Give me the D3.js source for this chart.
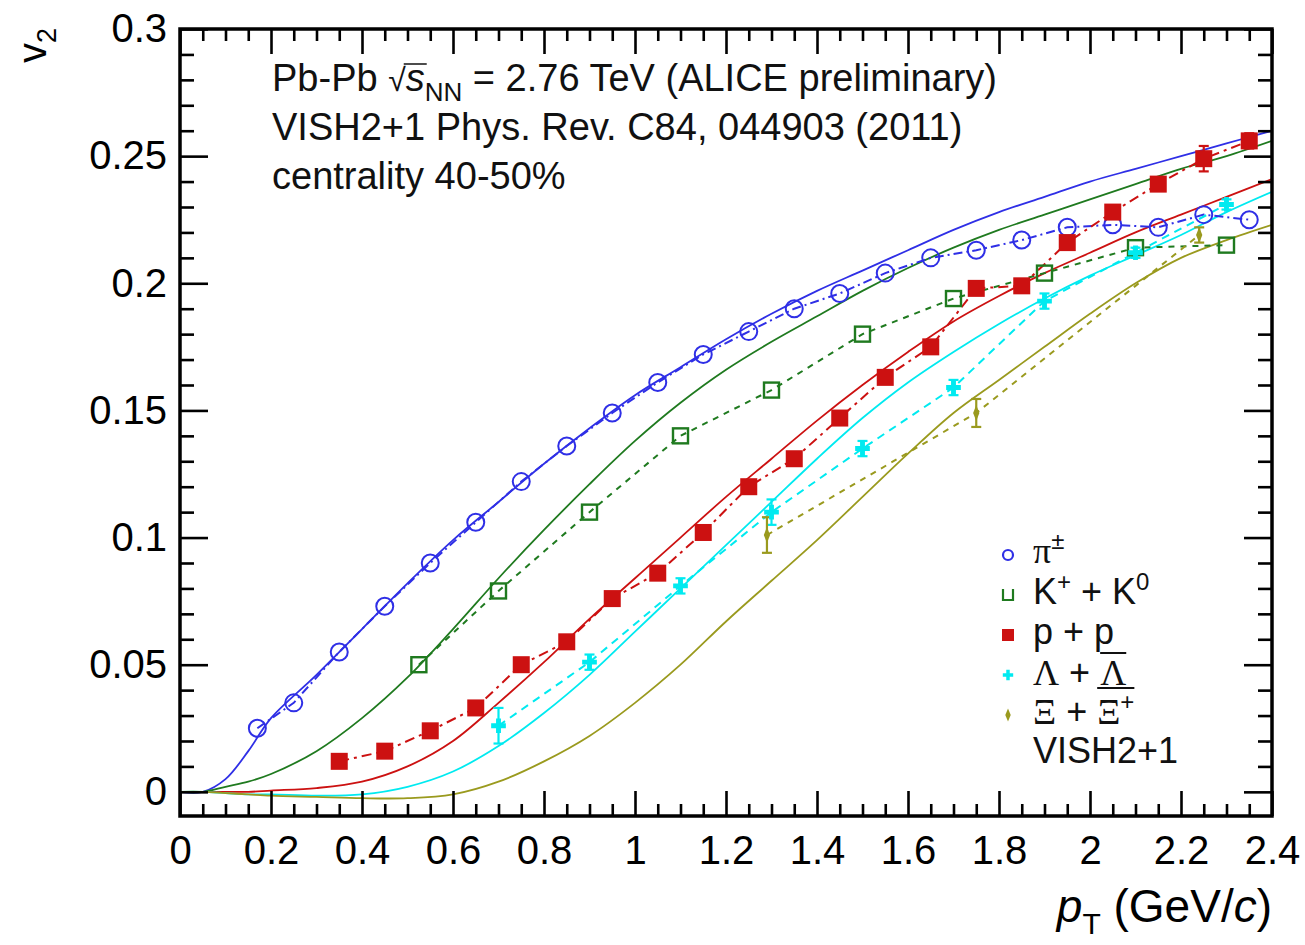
<!DOCTYPE html>
<html>
<head>
<meta charset="utf-8">
<script src="https://cdn.jsdelivr.net/npm/d3@7"></script>
<style>
  body { margin:0; background:#fff; }
  svg { display:block; font-family:"Liberation Sans", Arial, sans-serif; }
</style>
</head>
<body>
<svg id="chart" width="1305" height="945"></svg>
<script>
// ---- data ----
var xMajor=[0,0.2,0.4,0.6,0.8,1,1.2,1.4,1.6,1.8,2,2.2,2.4];
var yMajor=[0,0.05,0.1,0.15,0.2,0.25,0.3];

var pionPt=[0.17,0.25,0.35,0.45,0.55,0.65,0.75,0.85,0.95,1.05,1.15,1.25,1.35,1.45,1.55,1.65,1.75,1.85,1.95,2.05,2.15,2.25,2.35];
var pionV2=[0.025,0.035,0.055,0.073,0.090,0.106,0.122,0.136,0.149,0.161,0.172,0.181,0.190,0.196,0.204,0.210,0.213,0.217,0.222,0.223,0.222,0.227,0.225];

var kaonPt=[0.525,0.70,0.90,1.10,1.30,1.50,1.70,1.90,2.10,2.30];
var kaonV2=[0.050,0.079,0.110,0.140,0.158,0.180,0.194,0.204,0.214,0.215];

var protonPt=[0.35,0.45,0.55,0.65,0.75,0.85,0.95,1.05,1.15,1.25,1.35,1.45,1.55,1.65,1.75,1.85,1.95,2.05,2.15,2.25,2.35];
var protonV2=[0.012,0.016,0.024,0.033,0.050,0.059,0.076,0.086,0.102,0.120,0.131,0.147,0.163,0.175,0.198,0.199,0.216,0.228,0.239,0.249,0.256];
var protonErr=[0,0,0,0,0,0,0,0,0,0,0,0,0,0,0,0,0,0,0,0.005,0.003];

var lambdaPt=[0.70,0.90,1.10,1.30,1.50,1.70,1.90,2.10,2.30];
var lambdaV2=[0.026,0.051,0.081,0.110,0.135,0.159,0.193,0.212,0.231];
var lambdaErr=[0.007,0.003,0.003,0.005,0.003,0.003,0.003,0.002,0.002];

var xiPt=[1.29,1.75,2.24];
var xiV2=[0.101,0.149,0.219];
var xiErr=[0.007,0.0055,0.003];

// VISH2+1 hydro curves
var modelPt=[0,0.05,0.1,0.15,0.2,0.3,0.4,0.5,0.6,0.7,0.8,0.9,1.0,1.1,1.2,1.3,1.4,1.5,1.6,1.7,1.8,1.9,2.0,2.1,2.2,2.3,2.4];
var modelPion=[0,0,0.005,0.016,0.029,0.046,0.064,0.082,0.099,0.114,0.129,0.143,0.156,0.167,0.178,0.188,0.197,0.205,0.213,0.221,0.228,0.234,0.240,0.245,0.250,0.255,0.260];
var modelKaon=[0,0,0.002,0.004,0.007,0.016,0.029,0.045,0.064,0.084,0.103,0.121,0.138,0.153,0.166,0.177,0.187,0.197,0.206,0.214,0.221,0.227,0.233,0.239,0.245,0.250,0.256];
var modelProton=[0,0,0,0,0.0005,0.0015,0.004,0.010,0.020,0.035,0.051,0.068,0.084,0.100,0.116,0.131,0.146,0.160,0.173,0.185,0.195,0.204,0.212,0.220,0.227,0.234,0.241];
var modelLambda=[0,0,-0.0005,-0.001,-0.001,-0.0015,-0.001,0.002,0.008,0.018,0.031,0.046,0.063,0.080,0.097,0.114,0.131,0.147,0.161,0.173,0.184,0.194,0.203,0.211,0.219,0.228,0.236];
var modelXi=[0,0,-0.0005,-0.001,-0.0015,-0.002,-0.0025,-0.0025,-0.001,0.004,0.012,0.022,0.035,0.050,0.067,0.083,0.099,0.116,0.133,0.149,0.162,0.175,0.188,0.200,0.210,0.217,0.223];

var colPion="#2f2fe6", colKaon="#1f7a1f", colProton="#cc1111", colLambda="#00eaf0", colXi="#9a9a1e";

// ---- scales ----
var svg=d3.select("#chart");
var x=d3.scaleLinear().domain([0,2.4]).range([180,1272]);
var y=d3.scaleLinear().domain([-0.0095,0.3]).range([816,29]);

svg.append("clipPath").attr("id","plotClip")
  .append("rect").attr("x",180).attr("y",29).attr("width",1092).attr("height",787);

var plot=svg.append("g").attr("clip-path","url(#plotClip)");

function zip(a,b){ return a.map(function(v,i){ return [v,b[i]]; }); }

var line=d3.line().x(function(d){return x(d[0]);}).y(function(d){return y(d[1]);});
var smooth=d3.line().curve(d3.curveCatmullRom.alpha(0.5)).x(function(d){return x(d[0]);}).y(function(d){return y(d[1]);});

// model curves (solid)
[[modelPion,colPion],[modelKaon,colKaon],[modelProton,colProton],[modelLambda,colLambda],[modelXi,colXi]].forEach(function(m){
  plot.append("path").datum(zip(modelPt,m[0]))
    .attr("d",smooth).attr("fill","none").attr("stroke",m[1]).attr("stroke-width",1.8);
});

// data connecting lines (dashed)
var series=[
  {pt:pionPt,v:pionV2,col:colPion,dash:"9,4,2,4"},
  {pt:kaonPt,v:kaonV2,col:colKaon,dash:"6,6"},
  {pt:protonPt,v:protonV2,col:colProton,dash:"10,5,3,5"},
  {pt:lambdaPt,v:lambdaV2,col:colLambda,dash:"8,6"},
  {pt:xiPt,v:xiV2,col:colXi,dash:"6,6"}
];
series.forEach(function(s){
  plot.append("path").datum(zip(s.pt,s.v))
    .attr("d",line).attr("fill","none").attr("stroke",s.col)
    .attr("stroke-width",2).attr("stroke-dasharray",s.dash);
});

// error bars
function errBars(pt,v,err,col){
  var g=plot.append("g").attr("stroke",col).attr("stroke-width",2.2);
  pt.forEach(function(p,i){
    if(!err[i]) return;
    var cx=x(p), y1=y(v[i]-err[i]), y2=y(v[i]+err[i]);
    g.append("line").attr("x1",cx).attr("x2",cx).attr("y1",y1).attr("y2",y2);
    g.append("line").attr("x1",cx-5).attr("x2",cx+5).attr("y1",y1).attr("y2",y1);
    g.append("line").attr("x1",cx-5).attr("x2",cx+5).attr("y1",y2).attr("y2",y2);
  });
}
errBars(protonPt,protonV2,protonErr,colProton);
errBars(lambdaPt,lambdaV2,lambdaErr,colLambda);
errBars(xiPt,xiV2,xiErr,colXi);

// markers
plot.selectAll(".pion").data(zip(pionPt,pionV2)).enter().append("circle")
  .attr("cx",function(d){return x(d[0]);}).attr("cy",function(d){return y(d[1]);})
  .attr("r",8.5).attr("fill","none").attr("stroke",colPion).attr("stroke-width",2);

plot.selectAll(".kaon").data(zip(kaonPt,kaonV2)).enter().append("rect")
  .attr("x",function(d){return x(d[0])-7.5;}).attr("y",function(d){return y(d[1])-7.5;})
  .attr("width",15).attr("height",15).attr("fill","none").attr("stroke",colKaon).attr("stroke-width",2.4);

plot.selectAll(".proton").data(zip(protonPt,protonV2)).enter().append("rect")
  .attr("x",function(d){return x(d[0])-8.5;}).attr("y",function(d){return y(d[1])-8.5;})
  .attr("width",17).attr("height",17).attr("fill",colProton);

plot.selectAll(".lambda").data(zip(lambdaPt,lambdaV2)).enter().append("path")
  .attr("d",d3.symbol().type(d3.symbolCross).size(120))
  .attr("transform",function(d){return "translate("+x(d[0])+","+y(d[1])+")";})
  .attr("fill",colLambda);

plot.selectAll(".xi").data(zip(xiPt,xiV2)).enter().append("path")
  .attr("d",d3.symbol().type(d3.symbolDiamond).size(60))
  .attr("transform",function(d){return "translate("+x(d[0])+","+y(d[1])+") scale(0.75,1.1)";})
  .attr("fill",colXi);

// ---- axes (ticks inward, on all four sides) ----
var xMinor=d3.range(0,2.4001,0.05).filter(function(v){return Math.abs(v/0.2-Math.round(v/0.2))>1e-6;});
var yMinor=d3.range(0,0.3001,0.01).filter(function(v){return Math.abs(v/0.05-Math.round(v/0.05))>1e-6;});

function styleAxis(g){
  g.select(".domain").remove();
  g.selectAll(".tick line").attr("stroke","#000").attr("stroke-width",2.6);
  g.selectAll(".tick text").attr("fill","#000").style("font-size","40px")
    .style("font-family","'Liberation Sans', Arial, sans-serif");
}

svg.append("g").attr("transform","translate(0,816)")
  .call(d3.axisBottom(x).tickValues(xMajor).tickSizeInner(-25).tickSizeOuter(0).tickPadding(20).tickFormat(d3.format("~g")))
  .call(styleAxis);
svg.append("g").attr("transform","translate(0,816)")
  .call(d3.axisBottom(x).tickValues(xMinor).tickSizeInner(-12).tickSizeOuter(0).tickFormat(""))
  .call(styleAxis);
svg.append("g").attr("transform","translate(0,29)")
  .call(d3.axisTop(x).tickValues(xMajor).tickSizeInner(-25).tickSizeOuter(0).tickFormat(""))
  .call(styleAxis);
svg.append("g").attr("transform","translate(0,29)")
  .call(d3.axisTop(x).tickValues(xMinor).tickSizeInner(-12).tickSizeOuter(0).tickFormat(""))
  .call(styleAxis);

svg.append("g").attr("transform","translate(180,0)")
  .call(d3.axisLeft(y).tickValues(yMajor).tickSizeInner(-28).tickSizeOuter(0).tickPadding(13).tickFormat(d3.format("~g")))
  .call(styleAxis);
svg.append("g").attr("transform","translate(180,0)")
  .call(d3.axisLeft(y).tickValues(yMinor).tickSizeInner(-14).tickSizeOuter(0).tickFormat(""))
  .call(styleAxis);
svg.append("g").attr("transform","translate(1272,0)")
  .call(d3.axisRight(y).tickValues(yMajor).tickSizeInner(-28).tickSizeOuter(0).tickFormat(""))
  .call(styleAxis);
svg.append("g").attr("transform","translate(1272,0)")
  .call(d3.axisRight(y).tickValues(yMinor).tickSizeInner(-14).tickSizeOuter(0).tickFormat(""))
  .call(styleAxis);

// frame
svg.append("rect").attr("x",180).attr("y",29).attr("width",1092).attr("height",787)
  .attr("fill","none").attr("stroke","#000").attr("stroke-width",3.5);

// ---- axis titles ----
var xt=svg.append("text").attr("x",1272).attr("y",922).attr("text-anchor","end")
  .style("font-size","46px").attr("fill","#000");
xt.append("tspan").style("font-style","italic").text("p");
xt.append("tspan").attr("dy",12).style("font-size","30px").text("T");
xt.append("tspan").attr("dy",-12).text(" (GeV/");
xt.append("tspan").style("font-style","italic").text("c");
xt.append("tspan").text(")");

var yt=svg.append("text").attr("transform","translate(46,28) rotate(-90)")
  .attr("text-anchor","end").style("font-size","40px").attr("fill","#000");
yt.append("tspan").text("v");
yt.append("tspan").attr("dy",10).style("font-size","27px").text("2");

// ---- annotation text ----
var t1=svg.append("text").attr("x",272).attr("y",91).style("font-size","38px").attr("fill","#111");
t1.append("tspan").text("Pb-Pb ");
t1.append("tspan").style("font-size","32px").text("\u221A");
t1.append("tspan").style("font-style","italic").text("s");
t1.append("tspan").attr("dy",10).style("font-size","26px").text("NN");
t1.append("tspan").attr("dy",-10).text(" = 2.76 TeV (ALICE preliminary)");
svg.append("text").attr("x",272).attr("y",140).style("font-size","38px").attr("fill","#111")
  .text("VISH2+1 Phys. Rev. C84, 044903 (2011)");
svg.append("text").attr("x",272).attr("y",189).style("font-size","38px").attr("fill","#111")
  .text("centrality 40-50%");
// radical bar over s
(function(){
  var node=t1.node();
  var s0=node.getStartPositionOfChar(7), s1=node.getEndPositionOfChar(7);
  svg.append("line").attr("x1",s0.x-2).attr("x2",s1.x+2).attr("y1",64).attr("y2",64)
    .attr("stroke","#111").attr("stroke-width",1.5);
})();

// ---- legend ----
var legX=1008, legT=1033, rowY=[555,595,635,675,715];
var leg=svg.append("g");
leg.append("circle").attr("cx",legX).attr("cy",rowY[0]).attr("r",5).attr("fill","none").attr("stroke",colPion).attr("stroke-width",2.2);
leg.append("path").attr("d","M"+(legX-5)+","+(rowY[1]-6)+"V"+(rowY[1]+5)+"H"+(legX+5)+"V"+(rowY[1]-6))
  .attr("fill","none").attr("stroke",colKaon).attr("stroke-width",2.2);
leg.append("rect").attr("x",legX-6).attr("y",rowY[2]-6).attr("width",12).attr("height",12).attr("fill",colProton);
leg.append("path").attr("d",d3.symbol().type(d3.symbolCross).size(60)).attr("transform","translate("+legX+","+rowY[3]+")").attr("fill",colLambda);
leg.append("path").attr("d",d3.symbol().type(d3.symbolDiamond).size(40)).attr("transform","translate("+legX+","+rowY[4]+") scale(0.8,1.1)").attr("fill",colXi);

function legText(yb){ return leg.append("text").attr("x",legT).attr("y",yb).style("font-size","36px").attr("fill","#111"); }
var serif="'Liberation Serif', 'Times New Roman', serif";

var l0=legText(563);
l0.append("tspan").style("font-family",serif).text("\u03C0");
l0.append("tspan").attr("dy",-14).style("font-size","24px").text("\u00B1");

var l1=legText(604);
l1.append("tspan").text("K");
l1.append("tspan").attr("dy",-14).style("font-size","24px").text("+");
l1.append("tspan").attr("dy",14).text(" + K");
l1.append("tspan").attr("dy",-14).style("font-size","24px").text("0");

legText(644).text("p + p");

var l3=legText(685);
l3.append("tspan").style("font-family",serif).text("\u039B");
l3.append("tspan").text(" + ");
l3.append("tspan").style("font-family",serif).text("\u039B");

var l4=legText(724);
l4.append("tspan").style("font-family",serif).text("\u039E");
l4.append("tspan").text(" + ");
l4.append("tspan").style("font-family",serif).text("\u039E");
l4.append("tspan").attr("dy",-14).style("font-size","24px").text("+");

legText(763).text("VISH2+1");

// overbars for anti-particles
(function(){
  var n3=l3.node(), c3=n3.getNumberOfChars();
  var a=n3.getStartPositionOfChar(c3-1), b=n3.getEndPositionOfChar(c3-1);
  leg.append("line").attr("x1",a.x).attr("x2",b.x).attr("y1",653).attr("y2",653).attr("stroke","#111").attr("stroke-width",2);
  var n4=l4.node(), c4=n4.getNumberOfChars();
  var a4=n4.getStartPositionOfChar(c4-2), b4=n4.getEndPositionOfChar(c4-1);
  leg.append("line").attr("x1",a4.x).attr("x2",b4.x).attr("y1",688).attr("y2",688).attr("stroke","#111").attr("stroke-width",2);
})();
</script>
</body>
</html>
